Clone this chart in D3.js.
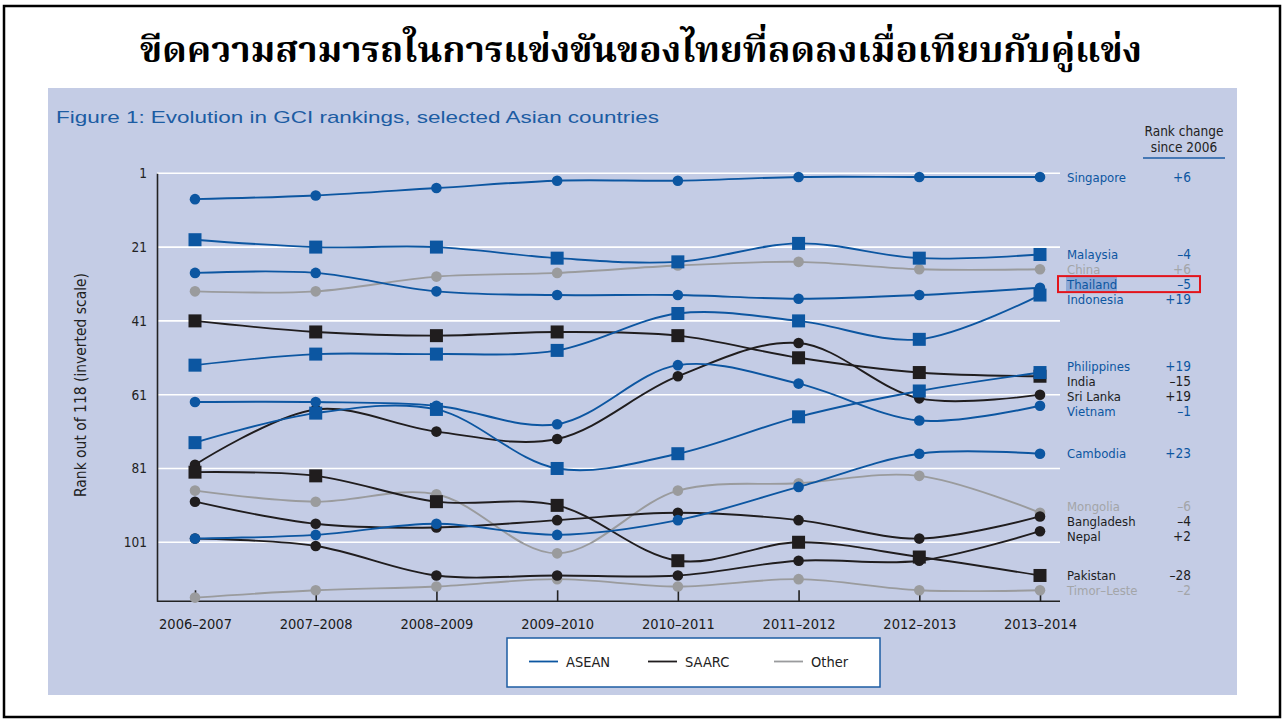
<!DOCTYPE html>
<html>
<head>
<meta charset="utf-8">
<script src="https://cdn.jsdelivr.net/npm/d3@7"></script>
<style>
  html, body { margin: 0; padding: 0; background: #ffffff; }
  svg { display: block; }
  .cond { font-family: "Liberation Sans Narrow", "DejaVu Sans Condensed", "Arial Narrow", sans-serif; }
</style>
</head>
<body>
<svg id="chart" width="1283" height="720"></svg>
<script>
// ---------------- DATA ----------------
const pageTitle = "ขีดความสามารถในการแข่งขันของไทยที่ลดลงเมื่อเทียบกับคู่แข่ง";
const figureTitle = "Figure 1: Evolution in GCI rankings, selected Asian countries";
const yAxisTitle = "Rank out of 118 (inverted scale)";
const years = ["2006–2007", "2007–2008", "2008–2009", "2009–2010", "2010–2011", "2011–2012", "2012–2013", "2013–2014"];
const yTicks = [1, 21, 41, 61, 81, 101];
const groupNames = ["ASEAN", "SAARC", "Other"];

const countries = ["Singapore", "Malaysia", "China", "Thailand", "Indonesia", "Philippines", "India", "Sri Lanka", "Vietnam", "Cambodia", "Mongolia", "Bangladesh", "Nepal", "Pakistan", "Timor–Leste"];
const countryGroups = ["ASEAN", "ASEAN", "Other", "ASEAN", "ASEAN", "ASEAN", "SAARC", "SAARC", "ASEAN", "ASEAN", "Other", "SAARC", "SAARC", "SAARC", "Other"];
const markerShapes = ["circle", "square", "circle", "circle", "square", "square", "square", "circle", "circle", "circle", "circle", "circle", "circle", "square", "circle"];
const rankChanges = ["+6", "–4", "+6", "–5", "+19", "+19", "–15", "+19", "–1", "+23", "–6", "–4", "+2", "–28", "–2"];

const singapore   = [8, 7, 5, 3, 3, 2, 2, 2];
const malaysia    = [19, 21, 21, 24, 25, 20, 24, 23];
const china       = [33, 33, 29, 28, 26, 25, 27, 27];
const thailand    = [28, 28, 33, 34, 34, 35, 34, 32];
const indonesia   = [53, 50, 50, 49, 39, 41, 46, 34];
const philippines = [74, 66, 65, 81, 77, 67, 60, 55];
const india       = [41, 44, 45, 44, 45, 51, 55, 56];
const sriLanka    = [80, 65, 71, 73, 56, 47, 62, 61];
const vietnam     = [63, 63, 64, 69, 53, 58, 68, 64];
const cambodia    = [100, 99, 96, 99, 95, 86, 77, 77];
const mongolia    = [87, 90, 88, 104, 87, 85, 83, 93];
const bangladesh  = [90, 96, 97, 95, 93, 95, 100, 94];
const nepal       = [100, 102, 110, 110, 110, 106, 106, 98];
const pakistan    = [82, 83, 90, 91, 106, 101, 105, 110];
const timorLeste  = [116, 114, 113, 111, 113, 111, 114, 114];

const seriesValues = [singapore, malaysia, china, thailand, indonesia, philippines, india, sriLanka, vietnam, cambodia, mongolia, bangladesh, nepal, pakistan, timorLeste];
const highlighted = "Thailand";

// ---------------- STYLE ----------------
const groupColor = { ASEAN: "#0c56a1", SAARC: "#201d1e", Other: "#9a9b9d" };
const labelColor = { ASEAN: "#0c56a1", SAARC: "#201d1e", Other: "#a3a5a8" };
const panelFill = "#c4cce5";

const svg = d3.select("#chart");

// page frame
svg.append("rect").attr("x", 4).attr("y", 6).attr("width", 1276).attr("height", 711)
  .attr("fill", "#ffffff").attr("stroke", "#000").attr("stroke-width", 2.5);

// page title
svg.append("text")
  .attr("x", 641).attr("y", 62)
  .attr("text-anchor", "middle")
  .attr("font-family", "'Noto Serif Thai', 'Noto Sans Thai', 'Tlwg Typo', 'Loma', 'Garuda', serif")
  .attr("font-weight", "bold")
  .attr("font-size", 36)
  .attr("textLength", 1002)
  .attr("lengthAdjust", "spacingAndGlyphs")
  .attr("fill", "#000")
  .text(pageTitle);

// panel
svg.append("rect").attr("x", 48).attr("y", 88).attr("width", 1189).attr("height", 607).attr("fill", panelFill);

svg.append("text")
  .attr("x", 56).attr("y", 123)
  .attr("font-family", "'Liberation Sans', Arial, sans-serif")
  .attr("font-size", 17)
  .attr("textLength", 603)
  .attr("lengthAdjust", "spacingAndGlyphs")
  .attr("fill", "#1c5ca3")
  .text(figureTitle);

// scales
const x = d3.scalePoint().domain(years).range([195, 1040]);
const y = d3.scaleLinear().domain([1, 117]).range([173.3, 601.3]);
const plotLeft = 157, plotRight = 1060;

// gridlines
svg.append("g").selectAll("line").data(yTicks).join("line")
  .attr("x1", plotLeft).attr("x2", plotRight)
  .attr("y1", d => y(d)).attr("y2", d => y(d))
  .attr("stroke", "#ffffff").attr("stroke-width", 1.6);

// y axis
const yAxis = d3.axisLeft(y).tickValues(yTicks).tickSize(0).tickPadding(10).tickFormat(d3.format("d"));
const gy = svg.append("g").attr("transform", `translate(${plotLeft},0)`).call(yAxis);
gy.select(".domain").attr("stroke", "#222").attr("stroke-width", 1.6);
gy.selectAll("text").attr("class", "cond").attr("font-size", 13.5).attr("fill", "#222").attr("font-family", null);

// x axis
const xAxis = d3.axisBottom(x).tickSize(-11).tickPadding(17).tickSizeOuter(0);
const gx = svg.append("g").attr("transform", `translate(0,${y(117)})`).call(xAxis);
gx.select(".domain").attr("d", `M${plotLeft},0H${plotRight}`).attr("stroke", "#222").attr("stroke-width", 1.6);
gx.selectAll(".tick line").attr("stroke", "#222").attr("stroke-width", 1.6);
gx.selectAll("text").attr("class", "cond").attr("font-size", 14.5).attr("fill", "#1a1a1a").attr("font-family", null);

// y axis title
svg.append("text")
  .attr("class", "cond")
  .attr("transform", `translate(86,${385}) rotate(-90)`)
  .attr("text-anchor", "middle")
  .attr("font-size", 15).attr("fill", "#222")
  .attr("textLength", 224).attr("lengthAdjust", "spacingAndGlyphs")
  .text(yAxisTitle);

// series
const series = countries.map((c, i) => ({
  name: c, group: countryGroups[i], shape: markerShapes[i], change: rankChanges[i],
  values: seriesValues[i]
}));
const drawOrder = ["Other", "SAARC", "ASEAN"];
const ordered = drawOrder.flatMap(g => series.filter(s => s.group === g));

const line = d3.line()
  .x((d, i) => x(years[i]))
  .y(d => y(d))
  .curve(d3.curveCatmullRom.alpha(0.5));

const gSeries = svg.append("g");
ordered.forEach(s => {
  const g = gSeries.append("g");
  g.append("path").attr("d", line(s.values)).attr("fill", "none")
    .attr("stroke", groupColor[s.group]).attr("stroke-width", 1.9);
  if (s.shape === "circle") {
    g.selectAll("circle").data(s.values).join("circle")
      .attr("cx", (d, i) => x(years[i])).attr("cy", d => y(d)).attr("r", 5.3)
      .attr("fill", groupColor[s.group]);
  } else {
    g.selectAll("rect").data(s.values).join("rect")
      .attr("x", (d, i) => x(years[i]) - 6.5).attr("y", d => y(d) - 6.5)
      .attr("width", 13).attr("height", 13)
      .attr("fill", groupColor[s.group]);
  }
});

// right-hand labels with de-overlap
const spacing = 15;
const lab = series.map(s => ({ s, target: y(s.values[s.values.length - 1]) }))
  .sort((a, b) => a.target - b.target);
let clusters = lab.map(l => ({ items: [l], mean: l.target }));
let changed = true;
while (changed) {
  changed = false;
  for (let i = 0; i < clusters.length - 1; i++) {
    const a = clusters[i], b = clusters[i + 1];
    const aBottom = a.mean + (a.items.length - 1) * spacing / 2;
    const bTop = b.mean - (b.items.length - 1) * spacing / 2;
    if (bTop - aBottom < spacing) {
      const items = a.items.concat(b.items);
      const mean = d3.mean(items, d => d.target);
      clusters.splice(i, 2, { items, mean });
      changed = true;
      break;
    }
  }
}
clusters.forEach(c => {
  const top = Math.max(c.mean - (c.items.length - 1) * spacing / 2, c.items[0].target - 6);
  c.items.forEach((l, k) => { l.ly = top + k * spacing; });
});

const nameX = 1067, valX = 1191;
const gLab = svg.append("g").attr("class", "cond");
lab.forEach(l => {
  if (l.s.name === highlighted) {
    gLab.append("rect").attr("x", nameX - 1).attr("y", l.ly - 7.5).attr("width", 51).attr("height", 15)
      .attr("fill", "#8fa9d6");
    gLab.append("rect").attr("x", 1058).attr("y", l.ly - 8).attr("width", 142).attr("height", 16)
      .attr("fill", "none").attr("stroke", "#e3141b").attr("stroke-width", 2);
  }
  gLab.append("text").attr("x", nameX).attr("y", l.ly).attr("dy", "0.35em")
    .attr("font-size", 13).attr("fill", labelColor[l.s.group]).text(l.s.name);
  gLab.append("text").attr("x", valX).attr("y", l.ly).attr("dy", "0.35em")
    .attr("text-anchor", "end")
    .attr("font-size", 13.5).attr("fill", labelColor[l.s.group]).text(l.s.change);
});

// header
const gHead = svg.append("g").attr("class", "cond");
gHead.append("text").attr("x", 1184).attr("y", 136).attr("text-anchor", "middle")
  .attr("font-size", 13.5).attr("fill", "#222").text("Rank change");
gHead.append("text").attr("x", 1184).attr("y", 152).attr("text-anchor", "middle")
  .attr("font-size", 13.5).attr("fill", "#222").text("since 2006");
gHead.append("line").attr("x1", 1143).attr("x2", 1225).attr("y1", 158).attr("y2", 158)
  .attr("stroke", "#1c5ca3").attr("stroke-width", 1.6);

// legend
const gLeg = svg.append("g");
gLeg.append("rect").attr("x", 507).attr("y", 638).attr("width", 373).attr("height", 49)
  .attr("fill", "#ffffff").attr("stroke", "#1c5ca3").attr("stroke-width", 1.5);
const legX = [529, 648, 774];
groupNames.forEach((g, i) => {
  gLeg.append("line").attr("x1", legX[i]).attr("x2", legX[i] + 29).attr("y1", 661.5).attr("y2", 661.5)
    .attr("stroke", groupColor[g]).attr("stroke-width", 1.8);
  gLeg.append("text").attr("class", "cond").attr("x", legX[i] + 37).attr("y", 661.5).attr("dy", "0.35em")
    .attr("font-size", 14.5).attr("fill", "#222").text(g);
});
</script>
</body>
</html>
